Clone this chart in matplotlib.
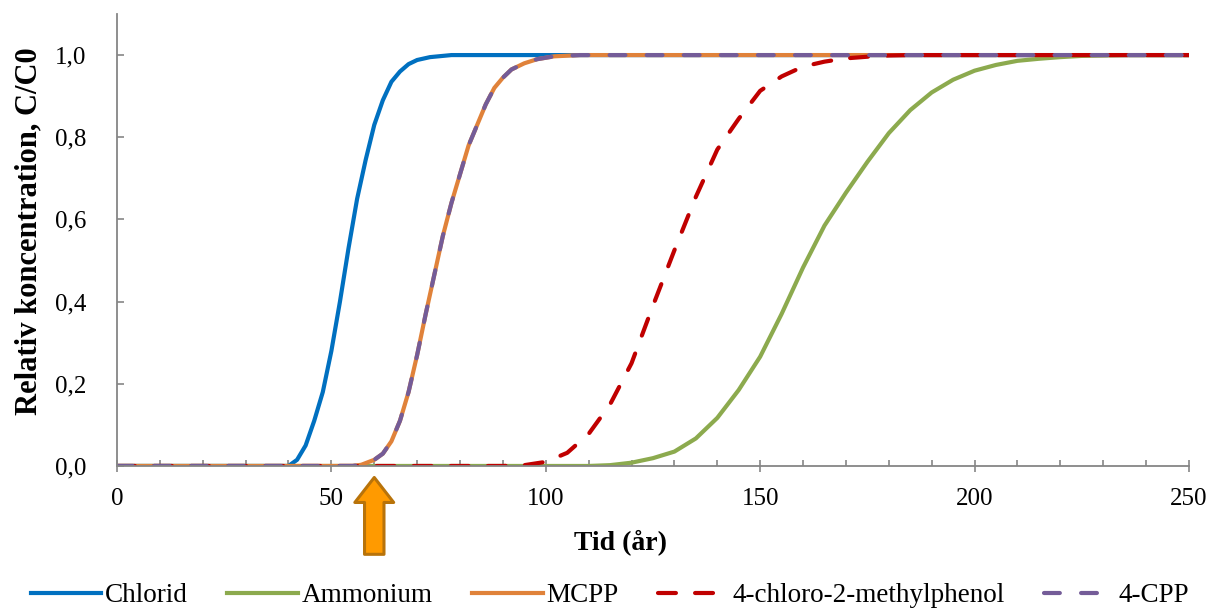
import matplotlib.pyplot as plt
from matplotlib.ticker import MultipleLocator, FuncFormatter

plt.rcParams['font.family'] = ['Liberation Serif', 'DejaVu Serif']

# Tid (år) og relativ koncentration
chlorid_t = [0, 38, 40, 42, 44, 46, 48, 50, 52, 54, 56, 58, 60, 62, 64, 66, 68, 70, 73, 78, 250]
chlorid_c = [0, 0, 0.0, 0.015, 0.05, 0.11, 0.18, 0.28, 0.40, 0.53, 0.65, 0.745, 0.83, 0.89, 0.935,
             0.96, 0.978, 0.988, 0.995, 1.0, 1.0]

ammonium_t = [0, 110, 115, 120, 125, 130, 135, 140, 145, 150, 155, 160, 165, 170, 175, 180, 185,
              190, 195, 200, 205, 210, 215, 220, 225, 230, 235, 250]
ammonium_c = [0, 0, 0.002, 0.008, 0.019, 0.035, 0.067, 0.117, 0.185, 0.266, 0.37, 0.483, 0.585,
              0.665, 0.74, 0.81, 0.866, 0.909, 0.94, 0.962, 0.976, 0.986, 0.991, 0.995, 0.998,
              0.999, 1.0, 1.0]

mcpp_t = [0, 55, 57, 60, 62, 64, 66, 68, 70, 72, 74, 76, 78, 80, 82, 84, 86, 88, 90, 92, 95, 98,
          102, 108, 250]
mcpp_c = [0, 0, 0.003, 0.015, 0.03, 0.06, 0.11, 0.18, 0.27, 0.37, 0.465, 0.56, 0.64, 0.71, 0.78,
          0.83, 0.88, 0.92, 0.945, 0.965, 0.98, 0.99, 0.997, 1.0, 1.0]

cmp_t = [0, 90, 95, 100, 105, 110, 115, 120, 125, 130, 135, 140, 145, 150, 155, 160, 165, 170,
         175, 180, 185, 250]
cmp_c = [0, 0, 0.002, 0.01, 0.032, 0.078, 0.15, 0.25, 0.39, 0.525, 0.655, 0.77, 0.845, 0.913,
         0.948, 0.972, 0.984, 0.992, 0.996, 0.999, 1.0, 1.0]

cpp_t = mcpp_t
cpp_c = mcpp_c

arrow_year = 60

fig = plt.figure(figsize=(12.11, 6.08), dpi=100)
ax = fig.add_axes([0.0966, 0.2336, 0.8852, 0.7434])

lw = 3.0
ax.plot(chlorid_t, chlorid_c, color='#0070C0', lw=lw, label='Chlorid')
ax.plot(ammonium_t, ammonium_c, color='#8CAA4E', lw=lw, label='Ammonium')
ax.plot(mcpp_t, mcpp_c, color='#E0823A', lw=lw, label='MCPP')
ax.plot(cmp_t, cmp_c, color='#C00000', lw=lw, ls=(0, (4.3, 4.6)), dash_capstyle='round',
        label='4-chloro-2-methylphenol')
ax.plot(cpp_t, cpp_c, color='#745C98', lw=lw, ls=(0, (3.8, 5.1)), dash_capstyle='round',
        label='4-CPP')

ax.set_xlim(0, 250)
ax.set_ylim(0, 1.1)
ax.xaxis.set_major_locator(MultipleLocator(50))
ax.xaxis.set_minor_locator(MultipleLocator(10))
ax.yaxis.set_major_locator(MultipleLocator(0.2))
ax.yaxis.set_major_formatter(FuncFormatter(lambda v, p: f'{v:.1f}'.replace('.', ',')))

for s in ['top', 'right']:
    ax.spines[s].set_visible(False)
for s in ['left', 'bottom']:
    ax.spines[s].set_color('#868686')
    ax.spines[s].set_linewidth(1.3)

ax.tick_params(axis='x', which='major', direction='inout', length=8, width=1.2, color='#868686',
               labelsize=18, pad=12)
ax.tick_params(axis='x', which='minor', direction='in', length=4, width=1.2, color='#868686')
ax.tick_params(axis='y', which='major', direction='in', length=5, width=1.2, color='#868686',
               labelsize=18, pad=22)

ax.set_xlabel('Tid (år)', fontsize=20, fontweight='bold')
ax.xaxis.set_label_coords(0.47, -0.14)
ax.set_ylabel('Relativ koncentration, C/C0', fontsize=22, fontweight='bold')
ax.yaxis.set_label_coords(-0.069, 0.52)

ax.annotate('', xy=(arrow_year, -0.028), xytext=(arrow_year, -0.215),
            xycoords='data', textcoords='data', annotation_clip=False,
            arrowprops=dict(arrowstyle='simple,tail_width=1.4,head_width=2.8,head_length=1.8',
                            mutation_scale=10, fc='#FF9A00', ec='#B8730A', lw=2.2,
                            shrinkA=0, shrinkB=0))

ax.legend(loc='upper center', bbox_to_anchor=(0.46, -0.205), ncol=5, frameon=False,
          fontsize=19.5, handlelength=2.6, columnspacing=1.45, handletextpad=0.15)

fig.savefig('out.png', dpi=100)
